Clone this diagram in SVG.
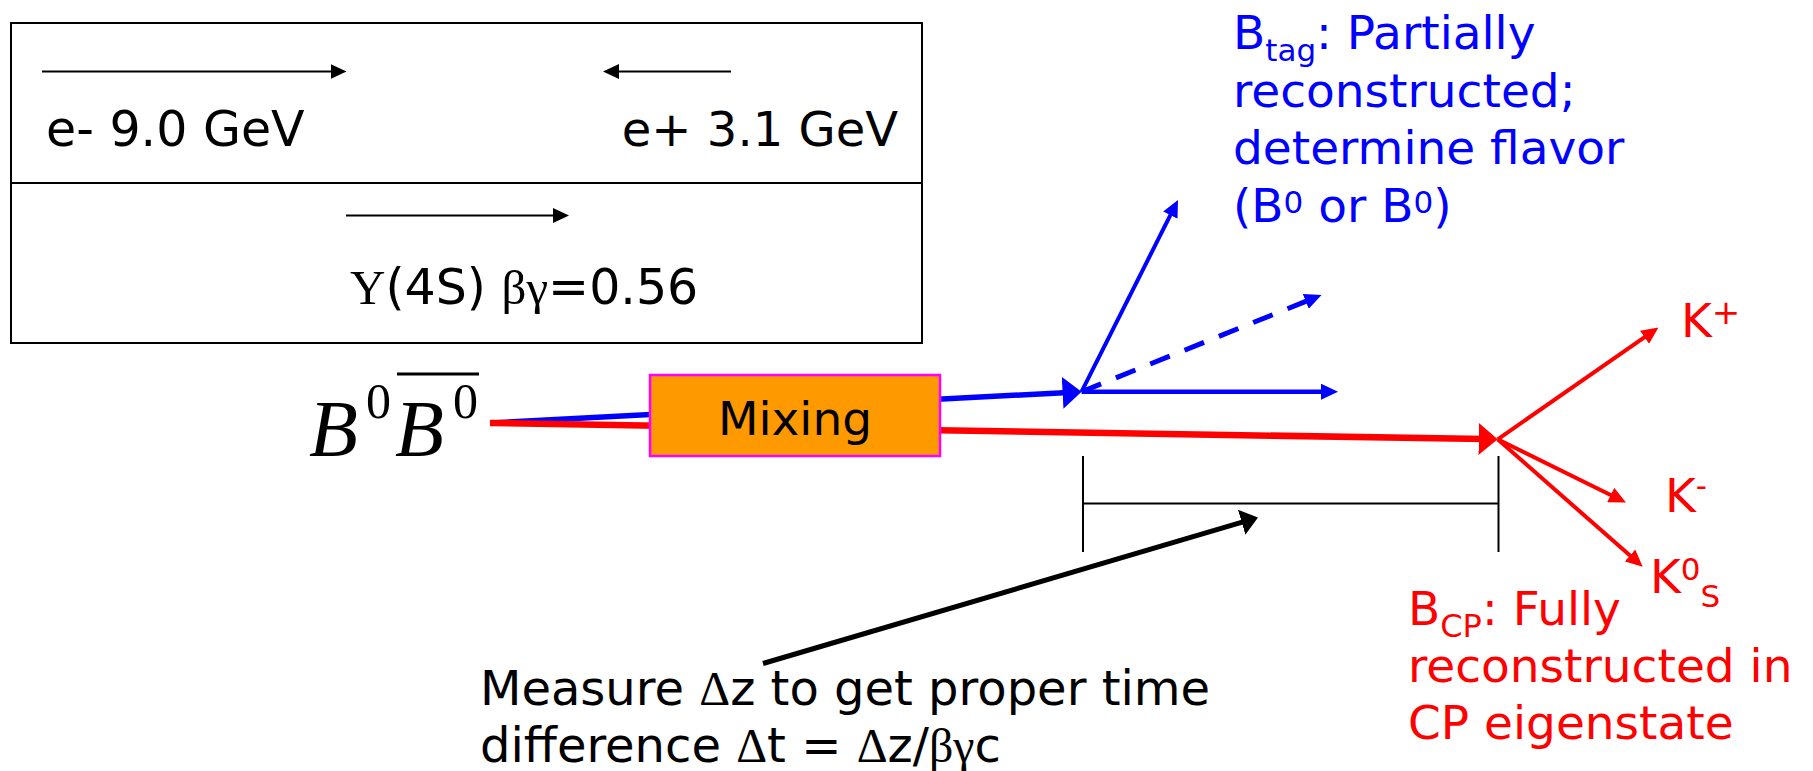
<svg xmlns="http://www.w3.org/2000/svg" width="1813" height="771" viewBox="0 0 1813 771">
<style>
.t{font-family:"DejaVu Sans",Verdana,sans-serif;}
.s{font-family:"Liberation Serif","Times New Roman",serif;}
.blue{fill:#0000FF;}
.red{fill:#FF0000;}
.blk{fill:#000;}
.sub{font-size:31px;}
.frame{fill:none;stroke:#000;stroke-width:2;}
.thin{stroke:#000;stroke-width:2;fill:none;}
</style>
<defs>
<marker id="ahBox" markerUnits="userSpaceOnUse" markerWidth="16" markerHeight="15" refX="4" refY="7.5" orient="auto"><path d="M0,0 L16,7.5 L0,15 z" fill="#000"/></marker>
<marker id="ahBigB" markerUnits="userSpaceOnUse" markerWidth="19" markerHeight="32" refX="6" refY="16" orient="auto"><path d="M0,0 L19,16 L0,32 z" fill="#0000FF"/></marker>
<marker id="ahBigR" markerUnits="userSpaceOnUse" markerWidth="19" markerHeight="32" refX="6" refY="16" orient="auto"><path d="M0,0 L19,16 L0,32 z" fill="#FF0000"/></marker>
<marker id="ahSmB" markerUnits="userSpaceOnUse" markerWidth="17" markerHeight="16" refX="5" refY="8" orient="auto"><path d="M0,0 L17,8 L0,16 z" fill="#0000FF"/></marker>
<marker id="ahSmR" markerUnits="userSpaceOnUse" markerWidth="17" markerHeight="16" refX="5" refY="8" orient="auto"><path d="M0,0 L17,8 L0,16 z" fill="#FF0000"/></marker>
<marker id="ahK" markerUnits="userSpaceOnUse" markerWidth="17" markerHeight="26" refX="5" refY="13" orient="auto"><path d="M0,0 L17,13 L0,26 z" fill="#000"/></marker>
</defs>
<rect width="1813" height="771" fill="#fff"/>

<g id="beam-box">
<rect class="frame" x="11" y="23" width="911" height="320"/>
<line class="thin" x1="11" y1="183" x2="922" y2="183"/>
<line class="thin" x1="42" y1="71.5" x2="334.5" y2="71.5" marker-end="url(#ahBox)"/>
<line class="thin" x1="731" y1="71.5" x2="615" y2="71.5" marker-end="url(#ahBox)"/>
<line class="thin" x1="346" y1="215.5" x2="557" y2="215.5" marker-end="url(#ahBox)"/>
<text class="t blk" x="46" y="146" font-size="49">e- 9.0 GeV</text>
<text class="t blk" x="898" y="146" font-size="48" text-anchor="end">e+ 3.1 GeV</text>
<text class="t blk" x="350" y="304" font-size="49"><tspan class="s">Υ</tspan>(4S) <tspan class="s">βγ</tspan>=0.56</text>
</g>

<g id="connectors">
<line x1="490" y1="423" x2="1068.6" y2="392.4" stroke="#0000FF" stroke-width="5.5" marker-end="url(#ahBigB)"/>
<line x1="490" y1="423" x2="1484.7" y2="439.1" stroke="#FF0000" stroke-width="6.5" marker-end="url(#ahBigR)"/>
<line x1="1081.6" y1="391.7" x2="1172.6" y2="210.7" stroke="#0000FF" stroke-width="4" marker-end="url(#ahSmB)"/>
<line x1="1081.6" y1="391.7" x2="1310.4" y2="299.5" stroke="#0000FF" stroke-width="5" stroke-dasharray="21 16" marker-end="url(#ahSmB)"/>
<line x1="1081.6" y1="391.7" x2="1326" y2="391.7" stroke="#0000FF" stroke-width="4.5" marker-end="url(#ahSmB)"/>
<line x1="1497.7" y1="439.3" x2="1648.6" y2="334.4" stroke="#FF0000" stroke-width="4" marker-end="url(#ahSmR)"/>
<line x1="1497.7" y1="439.3" x2="1615.2" y2="497.2" stroke="#FF0000" stroke-width="4" marker-end="url(#ahSmR)"/>
<line x1="1497.7" y1="439.3" x2="1633.7" y2="558.8" stroke="#FF0000" stroke-width="4" marker-end="url(#ahSmR)"/>
<line x1="763" y1="663.5" x2="1246.5" y2="520.9" stroke="#000" stroke-width="5" marker-end="url(#ahK)"/>
</g>

<g id="delta-z-bracket">
<line class="thin" x1="1083" y1="456" x2="1083" y2="552"/>
<line class="thin" x1="1498.5" y1="456" x2="1498.5" y2="552"/>
<line class="thin" x1="1083" y1="503.5" x2="1498.5" y2="503.5"/>
</g>

<g id="b-pair">
<text class="s blk" x="309" y="456" font-size="80" font-style="italic">B</text>
<text class="s blk" x="366" y="418" font-size="50">0</text>
<text class="s blk" x="395" y="456" font-size="80" font-style="italic">B</text>
<text class="s blk" x="453" y="418" font-size="50">0</text>
<line x1="397" y1="374" x2="479" y2="374" stroke="#000" stroke-width="3"/>
</g>

<g id="mixing">
<rect x="650" y="375" width="290" height="81" fill="#FF9900" stroke="#FF00FF" stroke-width="2.5"/>
<text class="t blk" x="795" y="435" font-size="47" text-anchor="middle">Mixing</text>
</g>

<g id="btag-label">
<text class="t blue" font-size="47" x="1233" y="49">B<tspan class="sub" dy="12">tag</tspan><tspan dy="-12">: Partially</tspan></text>
<text class="t blue" font-size="47" x="1233" y="107">reconstructed;</text>
<text class="t blue" font-size="47" x="1233" y="164">determine flavor</text>
<text class="t blue" font-size="47" x="1233" y="222">(B<tspan font-size="31" dy="-9">0</tspan><tspan dy="9"> or B</tspan><tspan font-size="31" dy="-9">0</tspan><tspan dy="9">)</tspan></text>
</g>

<g id="kaons">
<text class="t red" font-size="47" x="1681" y="337">K<tspan font-size="34" dy="-13">+</tspan></text>
<text class="t red" font-size="47" x="1665" y="512">K<tspan class="sub" dy="-16">-</tspan></text>
<text class="t red" font-size="47" x="1650" y="593">K<tspan class="sub" dy="-13">0</tspan><tspan class="sub" dy="27">S</tspan></text>
</g>

<g id="bcp-label">
<text class="t red" font-size="47" x="1408" y="625">B<tspan font-size="32" dy="12">CP</tspan><tspan dy="-12">: Fully</tspan></text>
<text class="t red" font-size="47" x="1408" y="682">reconstructed in</text>
<text class="t red" font-size="47" x="1408" y="739">CP eigenstate</text>
</g>

<g id="measure-label">
<text class="t blk" font-size="48" x="480" y="705">Measure <tspan class="s">Δ</tspan>z to get proper time</text>
<text class="t blk" font-size="48" x="480" y="762">difference <tspan class="s">Δ</tspan>t = <tspan class="s">Δ</tspan>z/<tspan class="s">βγ</tspan>c</text>
</g>
</svg>
